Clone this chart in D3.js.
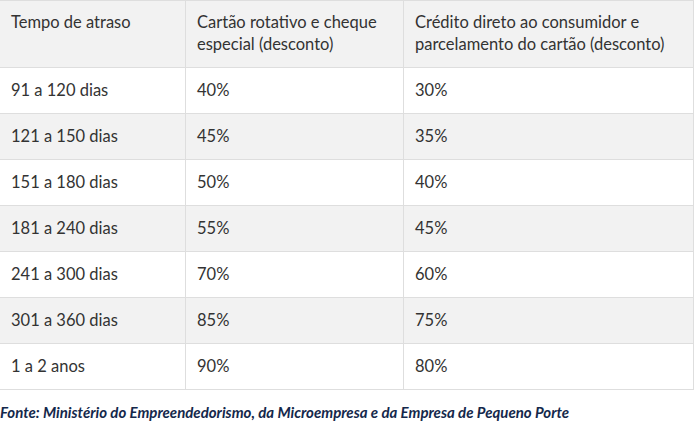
<!DOCTYPE html>
<html><head><meta charset="utf-8">
<script src="https://cdn.jsdelivr.net/npm/d3@7"></script>
<style>body{margin:0;background:#fff}</style>
</head><body>
<script>
const headers = [["Tempo de atraso"],["Cartão rotativo e cheque","especial (desconto)"],["Crédito direto ao consumidor e","parcelamento do cartão (desconto)"]];
const categories = ["91 a 120 dias","121 a 150 dias","151 a 180 dias","181 a 240 dias","241 a 300 dias","301 a 360 dias","1 a 2 anos"];
const rotativo = ["40%","45%","50%","55%","70%","85%","90%"];
const credito = ["30%","35%","40%","45%","60%","75%","80%"];
const source = "Fonte: Ministério do Empreendedorismo, da Microempresa e da Empresa de Pequeno Porte";

const W=694,H=425, headH=67, rowH=46;
const colX=[0,185,403,694];
const svg=d3.select("body").append("svg").attr("width",W).attr("height",H);
const font="Lato, 'Open Sans', sans-serif";
const y=d3.scaleBand().domain(d3.range(categories.length)).range([headH,headH+rowH*categories.length]);
svg.append("rect").attr("x",0).attr("y",0).attr("width",W).attr("height",headH).attr("fill","#f2f2f2");
svg.selectAll("rect.row").data(categories).join("rect").attr("class","row")
 .attr("x",0).attr("y",(d,i)=>y(i)).attr("width",W).attr("height",y.bandwidth())
 .attr("fill",(d,i)=>i%2?"#f2f2f2":"#fff");
const lc="#dedede";
[0,headH,...categories.map((d,i)=>y(i)+rowH)].forEach(v=>svg.append("line").attr("x1",0).attr("x2",W).attr("y1",v+0.5).attr("y2",v+0.5).attr("stroke",lc));
[185,403,693].forEach(v=>svg.append("line").attr("x1",v+0.5).attr("x2",v+0.5).attr("y1",0).attr("y2",headH+rowH*categories.length).attr("stroke",lc));
const fs=16.5;
headers.forEach((h,c)=>h.forEach((t,k)=>svg.append("text").attr("x",colX[c]+11+(c?1:0)).attr("y",28+k*22)
 .attr("font-family",font).attr("font-size",fs).attr("fill","#333").text(t)));
[categories,rotativo,credito].forEach((arr,c)=>svg.selectAll(null).data(arr).join("text")
 .attr("x",colX[c]+11+(c?1:0)).attr("y",(d,i)=>y(i)+rowH/2+6).attr("font-family",font).attr("font-size",fs).attr("fill","#333").text(d=>d));
svg.append("text").attr("x",0).attr("y",418).attr("font-family",font).attr("font-size",15)
 .attr("font-weight","bold").attr("font-style","italic").attr("fill","#14284b").text(source);
</script>
</body></html>
